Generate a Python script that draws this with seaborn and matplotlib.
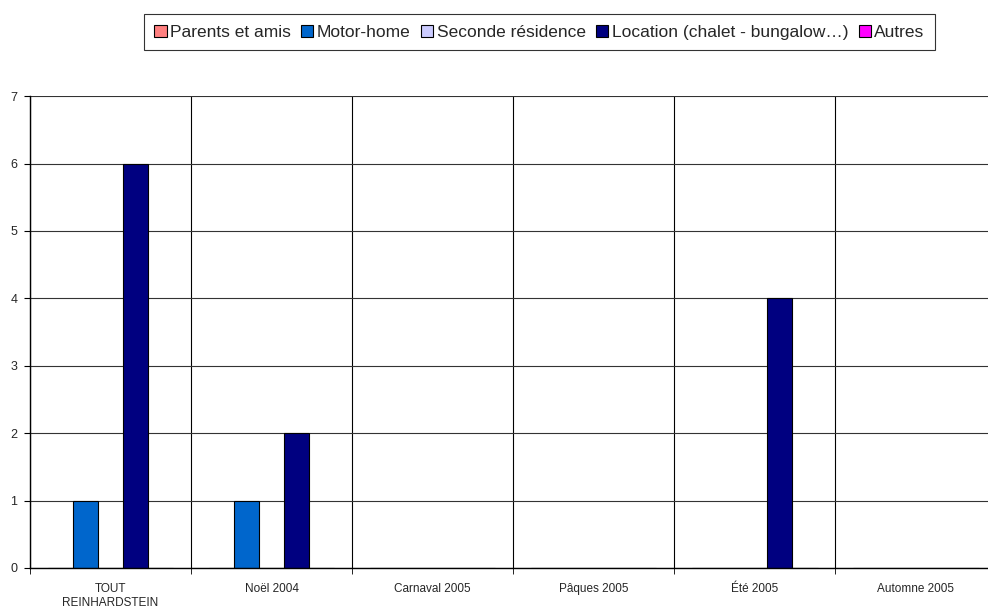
import pandas as pd
import matplotlib
matplotlib.use("Agg")
import matplotlib.pyplot as plt
import seaborn as sns

# Données
periodes = ["TOUT\nREINHARDSTEIN", "Noël 2004", "Carnaval 2005", "Pâques 2005", "Été 2005", "Automne 2005"]
logements = ["Parents et amis", "Motor-home", "Seconde résidence",
             "Location (chalet - bungalow…)", "Autres"]
parents_amis = [0, 0, 0, 0, 0, 0]
motor_home = [1, 1, 0, 0, 0, 0]
seconde_residence = [0, 0, 0, 0, 0, 0]
location = [6, 2, 0, 0, 4, 0]
autres = [0, 0, 0, 0, 0, 0]
couleurs = ["#FF8080", "#0066CC", "#CCCCFF", "#000080", "#FF00FF"]

series = [parents_amis, motor_home, seconde_residence, location, autres]
rows = []
for nom, valeurs in zip(logements, series):
    for p, v in zip(periodes, valeurs):
        rows.append({"periode": p, "logement": nom, "valeur": v})
df = pd.DataFrame(rows)

sns.set_style("white")
plt.rcParams["font.family"] = ["Liberation Sans", "DejaVu Sans"]

fig = plt.figure(figsize=(9.88, 6.12), dpi=100)
ax = fig.add_axes([0.0304, 0.0719, 0.978, 0.7711])

sns.barplot(data=df, x="periode", y="valeur", hue="logement", order=periodes,
            hue_order=logements, palette=couleurs, saturation=1, width=0.78, dodge=True,
            edgecolor="black", linewidth=0.8, ax=ax, legend=True)

ax.set_ylim(0, 7)
ax.set_xlim(-0.5, len(periodes) - 0.5)
ax.set_yticks(range(0, 8))
ax.set_xlabel("")
ax.set_ylabel("")
ax.tick_params(axis="y", labelsize=9, length=4, direction="out", left=True, color="black", pad=5)
ax.tick_params(axis="x", which="major", labelsize=8.5, length=0, pad=11)
ax.set_xticks([i - 0.5 for i in range(len(periodes) + 1)], minor=True)
ax.tick_params(axis="x", which="minor", length=4, direction="out", bottom=True, color="black")
ax.grid(axis="y", color="#333333", linewidth=0.8)
ax.grid(axis="x", which="minor", color="black", linewidth=0.8)
ax.set_axisbelow(True)
for s in ["left", "bottom"]:
    ax.spines[s].set_color("black")
    ax.spines[s].set_linewidth(1)
for s in ["top", "right"]:
    ax.spines[s].set_visible(False)

handles, labels = ax.get_legend_handles_labels()
ax.legend_.remove()
leg = fig.legend(handles, labels, loc="center", bbox_to_anchor=(0.546, 0.947), ncol=5,
                 frameon=True, fancybox=False, edgecolor="black", fontsize=12.5,
                 handlelength=0.7, handleheight=0.7, handletextpad=0.2,
                 columnspacing=0.6, borderpad=0.6)
leg.get_frame().set_linewidth(0.8)

fig.savefig("out.png", dpi=100)
